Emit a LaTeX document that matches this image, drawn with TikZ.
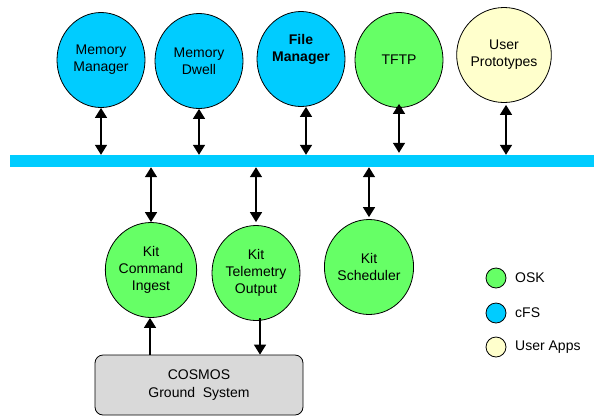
\documentclass[tikz,border=0pt]{standalone}
\usepackage{fontspec}
\setmainfont{Liberation Sans}
\usetikzlibrary{shapes.geometric,arrows.meta,calc}
\definecolor{cfsblue}{HTML}{00CCFF}
\definecolor{oskgreen}{HTML}{66FF66}
\definecolor{userylw}{HTML}{FFFFCC}
\definecolor{gsgray}{HTML}{D9D9D9}
\tikzset{
  app/.style={ellipse, draw=black, line width=0.8pt, minimum width=88pt, minimum height=95pt, inner sep=0pt, align=center, font=\fontsize{14pt}{17pt}\selectfont},
  cfs/.style={app, fill=cfsblue},
  osk/.style={app, fill=oskgreen},
  usr/.style={app, fill=userylw},
  biarr/.style={{Triangle[width=12pt,length=10pt]}-{Triangle[width=12pt,length=10pt]}, line width=1.6pt},
  onearr/.style={-{Triangle[width=12pt,length=10pt]}, line width=1.6pt},
  legdot/.style={circle, draw=black, line width=0.8pt, minimum size=20pt, inner sep=0pt},
  legtxt/.style={anchor=west, inner sep=0pt, font=\fontsize{14pt}{17pt}\selectfont}
}
\begin{document}
\begin{tikzpicture}[x=1pt,y=-1pt]
\useasboundingbox (0,0) rectangle (594,416);
% bus
\node[fill=cfsblue, minimum width=584pt, minimum height=12pt, inner sep=0pt, anchor=west] (bus) at (10,161) {};
% top apps
\node[cfs] (mm) at (101,60) {Memory\\Manager};
\node[cfs] (md) at (199,61) {Memory\\Dwell};
\node[cfs, font=\fontsize{14pt}{17pt}\selectfont\bfseries] (fm) at (301,59) {File\\Manager\\[6pt]};
\node[osk] (tftp) at (399,60) {TFTP};
\node[usr] (up) at (504,55) {User\\Prototypes};
% bottom apps
\node[osk] (ci) at (151,270) {Kit\\Command\\Ingest};
\node[osk] (to) at (256,273) {Kit\\Telemetry\\Output};
\node[osk] (sch) at (369,267) {Kit\\Scheduler};
% ground system
\node[draw=black, line width=0.8pt, fill=gsgray, rounded corners=8pt, minimum width=208pt, minimum height=60pt, align=center, inner sep=0pt, font=\fontsize{14pt}{18pt}\selectfont] (gs) at (199,385) {COSMOS\\Ground\ \ System};
% connectors
\draw[biarr] (mm.south) -- (mm.south |- bus.north);
\draw[biarr] (md.south) -- (md.south |- bus.north);
\coordinate (fmx) at ($(fm.south)+(5,0)$);
\draw[biarr] (fmx) -- (fmx |- bus.north);
\coordinate (tfx) at ($(tftp.south)+(0,-4)$);
\draw[biarr] (tfx) -- ($(tfx |- bus.north)+(0,-2)$);
\coordinate (upx) at ($(up.south)+(2,2)$);
\draw[biarr] (upx) -- (upx |- bus.north);
\draw[biarr] (ci.north |- bus.south) -- (ci.north);
\draw[biarr] (to.north |- bus.south) -- ($(to.north)+(0,-3)$);
\draw[biarr] (sch.north |- bus.south) -- ($(sch.north)+(0,-2)$);
\coordinate (gsup) at ($(ci.south)+(-1,0)$);
\draw[onearr] (gsup |- gs.north) -- (gsup);
\coordinate (todn) at (260,318);
\draw[onearr] (todn) -- (todn |- gs.north);
% legend
\node[legdot, fill=oskgreen] (lg1) at (496,278) {};
\node[legtxt] (lt1) at (515,278) {OSK};
\node[legdot, fill=cfsblue] (lg2) at (496,313) {};
\node[legtxt] (lt2) at (515,313) {cFS};
\node[legdot, fill=userylw] (lg3) at (496,347) {};
\node[legtxt] (lt3) at (515,347) {User Apps};
\end{tikzpicture}
\end{document}
